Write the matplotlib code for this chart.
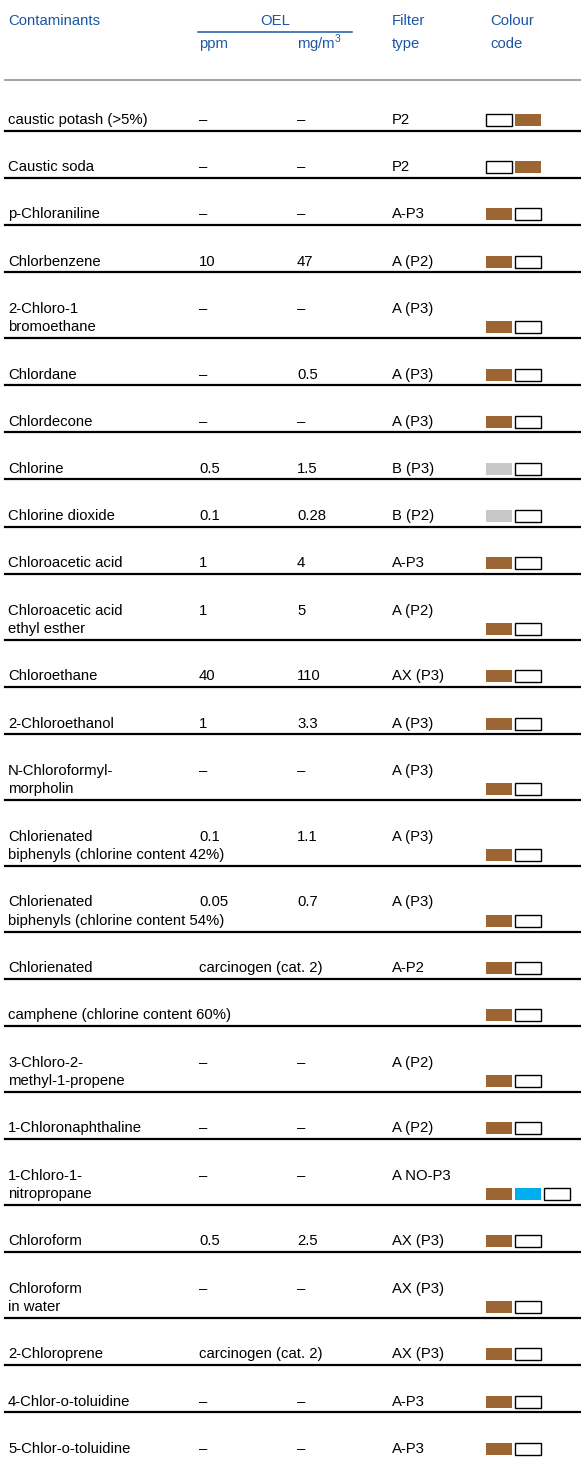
import matplotlib.pyplot as plt
from matplotlib.patches import Rectangle

plt.rcParams['font.family'] = ['Liberation Sans', 'DejaVu Sans']
plt.rcParams['mathtext.fontset'] = 'custom'
plt.rcParams['mathtext.rm'] = 'Liberation Sans'

# table contents
names = [
    "caustic potash (>5%)", "Caustic soda", "p-Chloraniline", "Chlorbenzene",
    "2-Chloro-1\nbromoethane", "Chlordane", "Chlordecone", "Chlorine",
    "Chlorine dioxide", "Chloroacetic acid", "Chloroacetic acid\nethyl esther",
    "Chloroethane", "2-Chloroethanol", "N-Chloroformyl-\nmorpholin",
    "Chlorienated\nbiphenyls (chlorine content 42%)",
    "Chlorienated\nbiphenyls (chlorine content 54%)",
    "Chlorienated", "camphene (chlorine content 60%)",
    "3-Chloro-2-\nmethyl-1-propene", "1-Chloronaphthaline",
    "1-Chloro-1-\nnitropropane", "Chloroform", "Chloroform\nin water",
    "2-Chloroprene", "4-Chlor-o-toluidine", "5-Chlor-o-toluidine",
]
ppm = ["–", "–", "–", "10", "–", "–", "–", "0.5", "0.1", "1", "1", "40", "1",
       "–", "0.1", "0.05", "carcinogen (cat. 2)", "", "–", "–", "–", "0.5",
       "–", "carcinogen (cat. 2)", "–", "–"]
mg = ["–", "–", "–", "47", "–", "0.5", "–", "1.5", "0.28", "4", "5", "110",
      "3.3", "–", "1.1", "0.7", "", "", "–", "–", "–", "2.5", "–", "", "–", "–"]
filters = ["P2", "P2", "A-P3", "A (P2)", "A (P3)", "A (P3)", "A (P3)", "B (P3)",
           "B (P2)", "A-P3", "A (P2)", "AX (P3)", "A (P3)", "A (P3)", "A (P3)",
           "A (P3)", "A-P2", "", "A (P2)", "A (P2)", "A NO-P3", "AX (P3)",
           "AX (P3)", "AX (P3)", "A-P3", "A-P3"]
codes = [
    "wb", "wb", "bw", "bw", "bw", "bw", "bw", "gw", "gw", "bw", "bw", "bw",
    "bw", "bw", "bw", "bw", "bw", "bw", "bw", "bw", "bcw", "bw", "bw", "bw",
    "bw", "bw",
]
swatch = {"b": "#9c6533", "w": "white", "g": "#c8c8c8", "c": "#00aeef"}

blue = "#1b57a3"
fs = 10.7

fig = plt.figure(figsize=(5.81, 14.65), dpi=100)
ax = fig.add_axes([0, 0, 1, 1])
ax.set_xlim(0, 581)
ax.set_ylim(1465, 0)
ax.axis("off")

x_name, x_ppm, x_mg, x_filt, x_box = 8, 199, 297, 392, 486

# header
ax.text(x_name, 21, "Contaminants", color=blue, fontsize=fs, va="center")
ax.text(275, 21, "OEL", color=blue, fontsize=fs, va="center", ha="center")
ax.plot([198, 352], [32, 32], color=blue, lw=1.1)
ax.text(x_ppm, 44, "ppm", color=blue, fontsize=fs, va="center")
ax.text(x_mg, 44, r"mg/m$^{\mathregular{3}}$", color=blue, fontsize=fs, va="center")
ax.text(x_filt, 21, "Filter", color=blue, fontsize=fs, va="center")
ax.text(x_filt, 44, "type", color=blue, fontsize=fs, va="center")
ax.text(490, 21, "Colour", color=blue, fontsize=fs, va="center")
ax.text(490, 44, "code", color=blue, fontsize=fs, va="center")
ax.plot([5, 581], [80, 80], color="#8a8a8a", lw=1.1)

row_h, line_gap, first_y = 47.2, 18.6, 120
bw, bh, bstep = 26, 12, 29

y = first_y
for i, name in enumerate(names):
    lines = name.split("\n")
    for k, ln in enumerate(lines):
        ax.text(x_name, y + k * line_gap, ln, fontsize=fs, va="center")
    ax.text(x_ppm, y, ppm[i], fontsize=fs, va="center")
    ax.text(x_mg, y, mg[i], fontsize=fs, va="center")
    ax.text(x_filt, y, filters[i], fontsize=fs, va="center")
    yb = y + (len(lines) - 1) * line_gap
    for j, c in enumerate(codes[i]):
        ax.add_patch(Rectangle((x_box + j * bstep, yb - bh / 2), bw, bh,
                               facecolor=swatch[c],
                               edgecolor="black" if c == "w" else "none",
                               lw=1.0))
    if i < len(names) - 1:
        ax.plot([5, 581], [yb + 10.5, yb + 10.5], color="black", lw=1.6)
    y = yb + row_h

fig.savefig("out.png", dpi=100)
